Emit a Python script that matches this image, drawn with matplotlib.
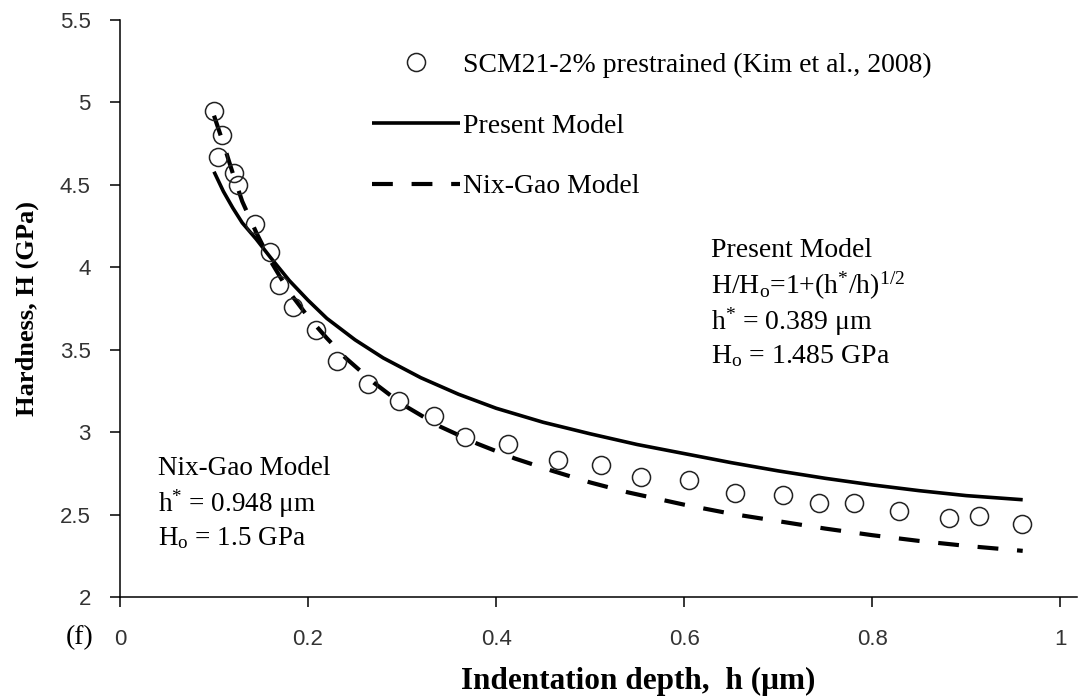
import matplotlib
matplotlib.use('Agg')
import matplotlib.pyplot as plt
from matplotlib.ticker import FuncFormatter

# Dados experimentais (SCM21-2% prestrained, Kim et al., 2008)
h_exp = [0.100, 0.1045, 0.1085, 0.121, 0.126, 0.144, 0.160, 0.169, 0.184, 0.208,
         0.231, 0.264, 0.297, 0.334, 0.367, 0.413, 0.466, 0.512, 0.554, 0.605,
         0.654, 0.705, 0.743, 0.781, 0.828, 0.882, 0.914, 0.959]
H_exp = [4.95, 4.67, 4.80, 4.57, 4.50, 4.26, 4.09, 3.89, 3.76, 3.62,
         3.43, 3.29, 3.19, 3.10, 2.97, 2.93, 2.83, 2.80, 2.73, 2.71,
         2.63, 2.62, 2.57, 2.57, 2.52, 2.48, 2.49, 2.44]

# Curva do modelo proposto
h_present = [0.10, 0.11, 0.12, 0.13, 0.145, 0.16, 0.18, 0.20, 0.22, 0.25,
             0.28, 0.32, 0.36, 0.40, 0.45, 0.50, 0.55, 0.60, 0.65, 0.70,
             0.75, 0.80, 0.85, 0.90, 0.96]
H_present = [4.58, 4.46, 4.36, 4.27, 4.17, 4.06, 3.92, 3.80, 3.69, 3.56,
             3.45, 3.33, 3.23, 3.145, 3.06, 2.99, 2.925, 2.87, 2.815, 2.765,
             2.72, 2.68, 2.645, 2.615, 2.59]

# Curva do modelo Nix-Gao
h_nix = [0.10, 0.11, 0.12, 0.13, 0.145, 0.16, 0.18, 0.20, 0.22, 0.24,
         0.27, 0.30, 0.34, 0.38, 0.42, 0.46, 0.50, 0.54, 0.60, 0.65,
         0.70, 0.75, 0.80, 0.85, 0.90, 0.96]
H_nix = [4.92, 4.75, 4.57, 4.40, 4.21, 4.04, 3.85, 3.70, 3.57, 3.45,
         3.30, 3.17, 3.035, 2.93, 2.84, 2.765, 2.695, 2.635, 2.56, 2.505,
         2.46, 2.415, 2.375, 2.34, 2.31, 2.28]

xticks = [0, 0.2, 0.4, 0.6, 0.8, 1.0]
yticks = [2, 2.5, 3, 3.5, 4, 4.5, 5, 5.5]

plt.rcParams['font.family'] = ['Liberation Serif', 'DejaVu Serif']
plt.rcParams['mathtext.fontset'] = 'custom'
plt.rcParams['mathtext.rm'] = 'Liberation Serif'
plt.rcParams['mathtext.it'] = 'Liberation Serif:italic'

fig = plt.figure(figsize=(10.78, 6.98), dpi=100)
ax = fig.add_axes([0.1113, 0.1447, 0.888, 0.8266])

ax.plot(h_present, H_present, color='black', lw=2.6, solid_capstyle='butt',
        label='Present Model')
ax.plot(h_nix, H_nix, color='black', lw=3.0, dashes=(5, 4.5),
        dash_capstyle='butt', label='Nix-Gao Model')
ax.plot(h_exp, H_exp, linestyle='none', marker='o', ms=13, mfc='none',
        mec='#222222', mew=1.1, label='SCM21-2% prestrained (Kim et al., 2008)')

ax.set_xlim(0, 1.018)
ax.set_ylim(2, 5.5)
ax.set_xticks(xticks)
ax.set_yticks(yticks)
fmt = FuncFormatter(lambda v, p: '%g' % v)
ax.xaxis.set_major_formatter(fmt)
ax.yaxis.set_major_formatter(fmt)

for s in ['top', 'right']:
    ax.spines[s].set_visible(False)
for s in ['left', 'bottom']:
    ax.spines[s].set_linewidth(1.1)
ax.tick_params(axis='both', direction='out', length=7, width=1.1,
               labelsize=16, labelfontfamily='Liberation Sans',
               labelcolor='#333333')
ax.tick_params(axis='y', pad=14)
ax.tick_params(axis='x', pad=16)

ax.set_xlabel('Indentation depth,  h (μm)', fontsize=22.5, fontweight='bold',
              labelpad=12)
ax.xaxis.label.set_x(0.541)
ax.set_ylabel('Hardness, H (GPa)', fontsize=19, fontweight='bold', labelpad=15)

handles, labels = ax.get_legend_handles_labels()
order = [2, 0, 1]
ax.legend([handles[i] for i in order], [labels[i] for i in order],
          loc='upper left', bbox_to_anchor=(0.252, 0.963), frameon=False,
          fontsize=20, handlelength=3.17, handletextpad=0.1,
          labelspacing=1.27, borderaxespad=0)

# Anotações
fs = 20
ax.text(0.629, 4.10, 'Present Model', fontsize=fs, va='center')
ax.text(0.629, 3.885, r'H/H$_\mathrm{o}$=1+(h$^{*}$/h)$^{1/2}$', fontsize=fs,
        va='center')
ax.text(0.629, 3.67, r'h$^{*}$ = 0.389 μm', fontsize=fs, va='center')
ax.text(0.629, 3.46, r'H$_\mathrm{o}$ = 1.485 GPa', fontsize=fs, va='center')

ax.text(0.04, 2.78, 'Nix-Gao Model', fontsize=19.5, va='center')
ax.text(0.04, 2.565, r'h$^{*}$ = 0.948 μm', fontsize=19.5, va='center')
ax.text(0.04, 2.355, r'H$_\mathrm{o}$ = 1.5 GPa', fontsize=19.5, va='center')

fig.text(0.074, 0.087, '(f)', fontsize=20, ha='center', va='center')

plt.savefig('out.png', dpi=100)
